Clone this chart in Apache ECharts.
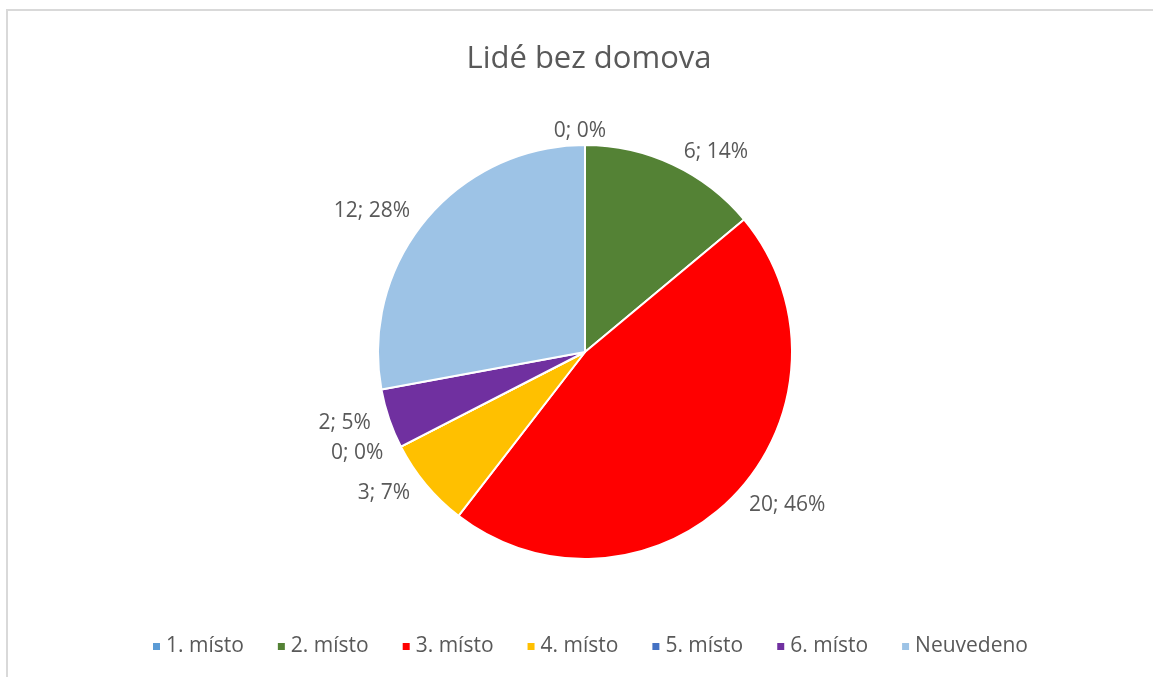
<!DOCTYPE html>
<html>
<head>
<meta charset="utf-8">
<script src="https://cdn.jsdelivr.net/npm/echarts@6/dist/echarts.min.js"></script>
<style>
html,body{margin:0;padding:0;background:#fff;}
#c{width:1153px;height:677px;}
</style>
</head>
<body>
<div id="c"></div>
<script>
const titleText = 'Lidé bez domova';
const categories = ['1. místo', '2. místo', '3. místo', '4. místo', '5. místo', '6. místo', 'Neuvedeno'];
const values = [0, 6, 20, 3, 0, 2, 12];
const colors = ['#5B9BD5', '#548235', '#FF0000', '#FFC000', '#4472C4', '#7030A0', '#9DC3E6'];

const FONT = '"Open Sans", "Noto Sans", sans-serif';
const chart = echarts.init(document.getElementById('c'));
chart.setOption({
  animation: false,
  color: colors,
  title: {
    text: titleText,
    left: 584,
    textAlign: 'center',
    top: 39,
    textStyle: { fontFamily: FONT, fontSize: 31, fontWeight: 'normal', color: '#595959' }
  },
  legend: {
    bottom: 15,
    left: 146,
    icon: 'rect',
    itemWidth: 9,
    itemHeight: 9,
    itemGap: 32,
    textStyle: { fontFamily: FONT, fontSize: 21, color: '#595959' },
    data: categories
  },
  graphic: [
    { type: 'line', shape: { x1: 6, y1: 10, x2: 1153, y2: 10 }, style: { stroke: '#d9d9d9', lineWidth: 2 } },
    { type: 'line', shape: { x1: 7, y1: 10, x2: 7, y2: 677 }, style: { stroke: '#d9d9d9', lineWidth: 2 } }
  ],
  series: [{
    type: 'pie',
    center: [585, 352],
    radius: 207,
    startAngle: 90,
    clockwise: true,
    percentPrecision: 0,
    avoidLabelOverlap: false,
    itemStyle: { borderColor: '#fff', borderWidth: 2 },
    label: {
      show: true,
      position: 'outside',
      formatter: '{c}; {d}%',
      fontFamily: FONT,
      fontSize: 21,
      color: '#595959'
    },
    labelLine: { show: false, length: 14, length2: 0 },
    labelLayout: function (p) {
      if (p.dataIndex === 0) { return { align: 'center' }; }
      return {};
    },
    data: categories.map((n, i) => ({ name: n, value: values[i] }))
  }]
});
</script>
</body>
</html>
